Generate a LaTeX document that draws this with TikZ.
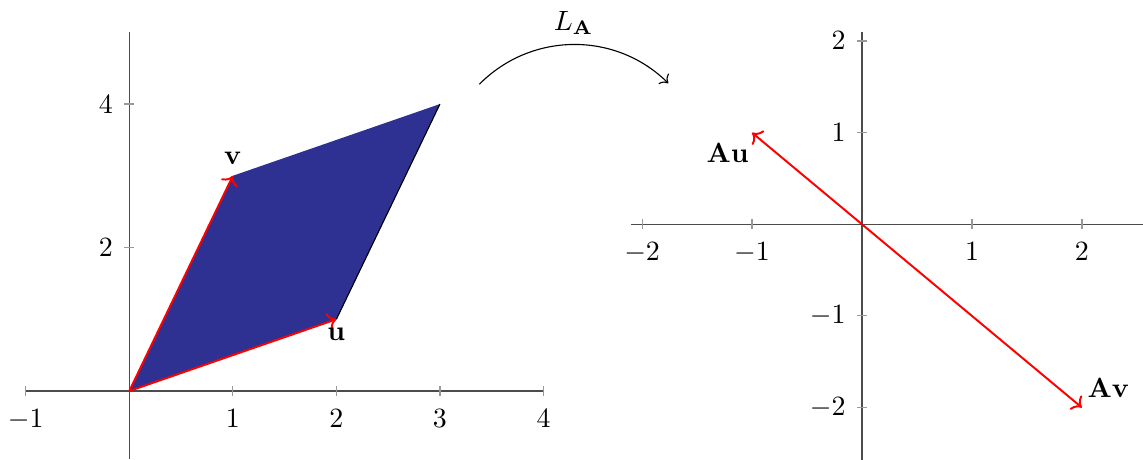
\documentclass[tikz,border=0pt]{standalone}
\usepackage{amsmath,amssymb}
\usepackage{tikz}
\usetikzlibrary{arrows.meta, positioning}

\definecolor{areablue}{RGB}{46,49,146}

\begin{document}
\begin{tikzpicture}[
    x=0.0126cm, y=0.0126cm,
    axisline/.style={draw=black!70, line width=0.45pt},
    tickmark/.style={draw=black!40, line width=0.4pt},
    xlab/.style={anchor=north, inner sep=0pt, yshift=-6.3pt},
    ylab/.style={anchor=east, inner sep=0pt, xshift=-5.7pt},
    vec/.style={-{To}, red, line width=0.7pt},
    mapto/.style={-{To}, thin}
]
\useasboundingbox (0,0) rectangle (1143,459);

% plane of u and v
\begin{scope}[shift={(129.3,68)}, x=1.305cm, y=0.9041cm]
\coordinate (O1) at (0,0);
\coordinate (u) at (2,1);
\coordinate (v) at (1,3);
\coordinate (uv) at (3,4);
\fill[areablue] (O1) -- (u) -- (uv) -- (v) -- cycle;
\draw[thin] (u) -- (uv);
\draw[axisline] (-1,0) -- (4,0);
\draw[axisline] (0,-0.95) -- (0,5);
\foreach \t in {-1,1,2,3,4} {
    \draw[tickmark] (\t,0) ++(0,-1.8pt) -- ++(0,3.6pt);
    \node[xlab] (lx\t) at (\t,0) {$\t$};
}
\foreach \t in {2,4} {
    \draw[tickmark] (0,\t) ++(-1.8pt,0) -- ++(3.6pt,0);
    \node[ylab] (ly\t) at (0,\t) {$\t$};
}
\draw[vec] (O1) -- (u);
\draw[vec] (O1) -- (v);
\node[anchor=north, inner sep=0pt, yshift=-2.8pt] (ulab) at (u) {$\mathbf{u}$};
\node[anchor=south, inner sep=0pt, yshift=3.8pt] (vlab) at (v) {$\mathbf{v}$};
\end{scope}

% image plane
\begin{scope}[shift={(862,234.7)}, x=1.386cm, y=1.155cm]
\coordinate (O2) at (0,0);
\coordinate (Au) at (-1,1);
\coordinate (Av) at (2,-2);
\draw[axisline] (-2.1,0) -- (2.6,0);
\draw[axisline] (0,-2.6) -- (0,2.1);
\foreach \t in {-2,-1,1,2} {
    \draw[tickmark] (\t,0) ++(0,-1.8pt) -- ++(0,3.6pt);
    \node[xlab] (rx\t) at (\t,0) {$\t$};
    \draw[tickmark] (0,\t) ++(-1.8pt,0) -- ++(3.6pt,0);
    \node[ylab] (ry\t) at (0,\t) {$\t$};
}
\draw[vec] (O2) -- (Au);
\draw[vec] (O2) -- (Av);
\node[anchor=north east, inner sep=0pt, xshift=-1pt, yshift=-3.6pt] (aulab) at (Au) {$\mathbf{Au}$};
\node[anchor=south west, inner sep=0pt, xshift=1.8pt, yshift=3.3pt] (avlab) at (Av) {$\mathbf{Av}$};
\end{scope}

% the map
\coordinate (src) at (479.3,374.7);
\coordinate (dst) at (668.3,375.7);
\draw[mapto] (src) to[bend left=45] node[above] (LA) {$L_{\mathbf{A}}$} (dst);
\end{tikzpicture}
\end{document}
